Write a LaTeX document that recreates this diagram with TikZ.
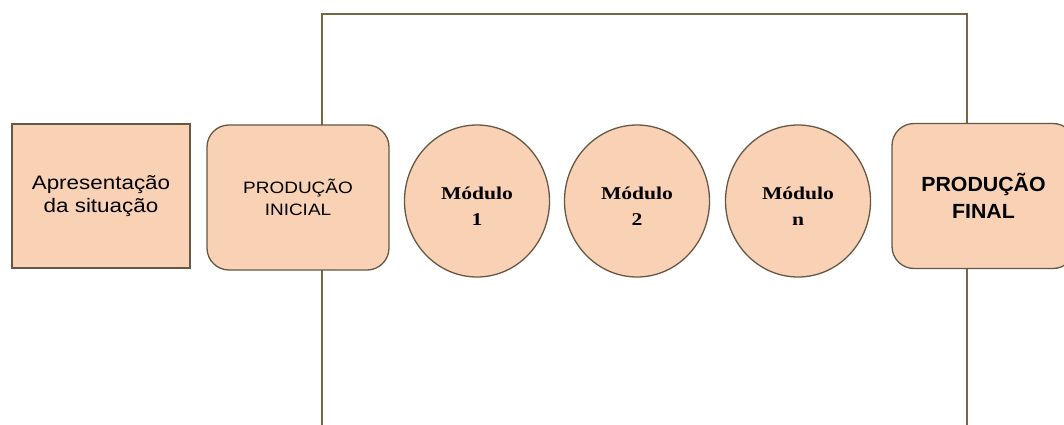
\documentclass[tikz,border=0pt]{standalone}
\usepackage{fontspec}
\usetikzlibrary{shapes.geometric}
\setmainfont{Liberation Serif}
\setsansfont{Liberation Sans}
\newfontfamily\widesans[FakeStretch=1.15]{Liberation Sans}
\newfontfamily\wideserif[FakeStretch=1.2]{Liberation Serif}
\newfontfamily\finalsans[FakeStretch=1.04]{Liberation Sans}
\begin{document}
\begin{tikzpicture}[x=1pt,y=-1pt,
  peach/.style={fill=peachfill, draw=edgebrown, line width=1.3pt},
  squarebox/.style={peach, rectangle, minimum width=178pt, minimum height=144pt, align=center, inner sep=0pt},
  roundbox/.style={peach, rectangle, rounded corners=22pt, align=center, inner sep=0pt},
  modulo/.style={peach, ellipse, minimum width=145pt, minimum height=152pt, align=center, inner sep=0pt,
    font=\wideserif\bfseries\fontsize{18}{26}\selectfont},
  bracket/.style={draw=linebrown, line width=2.2pt}
]
\definecolor{peachfill}{HTML}{F9D2B5}
\definecolor{edgebrown}{HTML}{665845}
\definecolor{linebrown}{HTML}{7A6446}
\useasboundingbox (0,0) rectangle (1064,425);
\fill[white] (0,0) rectangle (1064,425);

% frame behind the production boxes
\coordinate (tl) at (322,14);
\coordinate (tr) at (967,14);
\coordinate (bl) at (322,426);
\coordinate (br) at (967,426);
\draw[bracket] (bl) -- (tl) -- (tr) -- (br);

% stages
\node[squarebox, font=\widesans\fontsize{19.5}{23}\selectfont] (apres) at (101,196)
  {Apresentação\\da situação};
\node[roundbox, minimum width=182pt, minimum height=145pt,
  font=\widesans\fontsize{16.5}{22}\selectfont] (inicial) at (298,197.5) {PRODUÇÃO\\INICIAL};
\node[modulo] (m1) at (477,201) {\rule{0pt}{22pt}Módulo\\1};
\node[modulo] (m2) at (637,201) {\rule{0pt}{22pt}Módulo\\2};
\node[modulo] (mn) at (798,201) {\rule{0pt}{22pt}Módulo\\n};
\node[roundbox, minimum width=183pt, minimum height=145pt,
  font=\finalsans\bfseries\fontsize{20.5}{27}\selectfont] (final) at (983.5,196) {PRODUÇÃO\\FINAL};
\end{tikzpicture}
\end{document}
